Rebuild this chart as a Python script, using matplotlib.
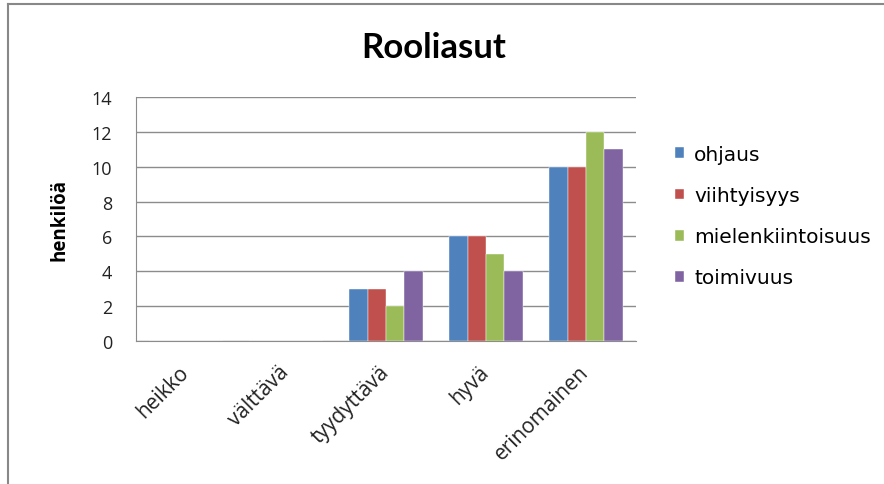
import matplotlib
matplotlib.use("Agg")
import matplotlib.pyplot as plt
import numpy as np
from matplotlib.lines import Line2D

categories = ["heikko", "välttävä", "tyydyttävä", "hyvä", "erinomainen"]
series_names = ["ohjaus", "viihtyisyys", "mielenkiintoisuus", "toimivuus"]
ohjaus = [0, 0, 3, 6, 10]
viihtyisyys = [0, 0, 3, 6, 10]
mielenkiintoisuus = [0, 0, 2, 5, 12]
toimivuus = [0, 0, 4, 4, 11]
series_values = [ohjaus, viihtyisyys, mielenkiintoisuus, toimivuus]
colors = ["#4F81BD", "#C0504D", "#9BBB59", "#8064A2"]
yticks = [0, 2, 4, 6, 8, 10, 12, 14]

fig = plt.figure(figsize=(8.84, 4.85), dpi=100)
ax = fig.add_axes([136/884, 1-342/485, 500/884, 244/485])

x = np.arange(len(categories))
bw = 0.183
for i, (name, vals, c) in enumerate(zip(series_names, series_values, colors)):
    ax.bar(x + (i - 1.5) * bw, vals, width=bw, color=c, label=name,
           edgecolor="white", linewidth=0.3, zorder=3)

ax.set_xlim(-0.5, 4.5)
ax.set_ylim(0, 14)
ax.set_yticks(yticks)
ax.set_yticklabels([str(t) for t in yticks], fontsize=13, family="Open Sans", color="#222222")
ax.yaxis.grid(True, color="#8c8c8c", linewidth=1.0, zorder=0)
ax.set_axisbelow(True)
for s in ["top", "right"]:
    ax.spines[s].set_visible(False)
ax.spines["left"].set_color("#8c8c8c")
ax.spines["bottom"].set_color("#8c8c8c")
ax.tick_params(axis="both", length=0)
ax.tick_params(axis="y", pad=17)
ax.set_xticks(x)
ax.set_xticklabels(categories, rotation=45, ha="right", va="center", rotation_mode="anchor",
                   fontsize=15, family="Open Sans", color="#222222")
ax.tick_params(axis="x", pad=20)

ax.set_ylabel("henkilöä", fontsize=13.5, fontweight="bold", family="Open Sans", labelpad=16)

fig.text(434/884, 1-48/485, "Rooliasut", ha="center", va="center",
         fontsize=25, fontweight="bold", family="Lato")

leg = ax.legend(loc="upper left", bbox_to_anchor=((675-136)/500, (342-146)/244),
                frameon=False, borderpad=0, borderaxespad=0,
                handlelength=0.45, handleheight=0.45,
                handletextpad=0.5, labelspacing=1.1,
                prop={"family": "DejaVu Sans", "size": 14.5})

# outer frame (left and top edges)
fig.add_artist(Line2D([8/884, 8/884], [0, 1-5/485], color="#888888", linewidth=1.5))
fig.add_artist(Line2D([8/884, 1], [1-5/485, 1-5/485], color="#888888", linewidth=1.5))

fig.savefig("out.png", dpi=100)
